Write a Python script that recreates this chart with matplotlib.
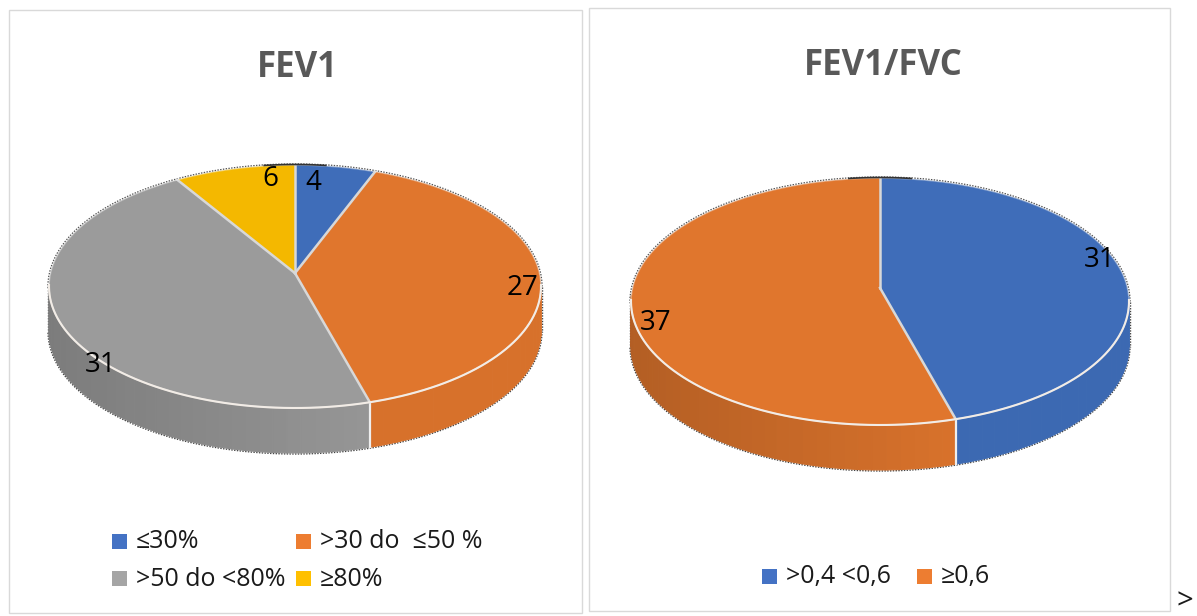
import numpy as np
import matplotlib
matplotlib.use("Agg")
import matplotlib.pyplot as plt
from matplotlib.colors import to_rgb
from matplotlib.patches import Rectangle

plt.rcParams["font.family"] = ["Open Sans", "DejaVu Sans"]

fev1_labels = ["≤30%", ">30 do  ≤50 %", ">50 do <80%", "≥80%"]
fev1_values = [4, 27, 31, 6]
ratio_labels = [">0,4 <0,6", "≥0,6"]
ratio_values = [31, 37]

BLUE, ORANGE, GRAY, YELLOW = "#3f6db9", "#e0762d", "#9b9b9b", "#f4b800"
LEGEND_COLORS = {BLUE: "#4472c4", ORANGE: "#ed7d31", GRAY: "#a5a5a5", YELLOW: "#ffc000"}
EDGE = "#d8d8d8"
TITLE = "#595959"
DEPTH = 45
TILT = 0.11  # how far the apex sits above the middle of the ellipse


def project(theta, cx, cy, rx, ry):
    """angle clockwise from the top -> picture position, with a bit of perspective"""
    x_u = np.sin(theta) * np.sqrt(1 - TILT**2) / (1 + TILT * np.cos(theta))
    y_u = (np.cos(theta) + TILT) / (1 + TILT * np.cos(theta))
    return cx + rx * x_u, cy - ry * y_u, x_u, y_u


def shade(x_u):
    return 0.80 + 0.16 * min((x_u + 1) / 1.3, 1)


def draw_pie(ax, values, colors, cx, cy, rx, ry):
    edges = np.concatenate([[0], np.cumsum(values)]) / sum(values) * 2 * np.pi

    # dotted outline round the whole disc
    t = np.linspace(0, 2 * np.pi, 300)
    dots = dict(color="#444444", lw=1.0, ls=(0, (1, 1)), zorder=1)
    ax.plot(cx + (rx + 1) * np.cos(t[:151]), cy - (ry + 1) * np.sin(t[:151]), **dots)
    ax.plot(cx + (rx + 1) * np.cos(t[150:]), cy + DEPTH - (ry + 1) * np.sin(t[150:]), **dots)
    ax.plot([cx - rx - 1] * 2, [cy, cy + DEPTH], **dots)
    ax.plot([cx + rx + 1] * 2, [cy, cy + DEPTH], **dots)

    # side wall, only the part facing us
    for a, b, color in zip(edges[:-1], edges[1:], colors):
        th = np.linspace(a, b, max(int((b - a) * 20), 2))
        px, py, ux, uy = project(th, cx, cy, rx, ry)
        for i in range(len(th) - 1):
            if uy[i] > 0 and uy[i + 1] > 0:
                continue
            c = np.array(to_rgb(color)) * shade(ux[i])
            ax.fill([px[i], px[i + 1], px[i + 1], px[i]],
                    [py[i], py[i + 1], py[i + 1] + DEPTH, py[i] + DEPTH],
                    color=c, lw=0.8, zorder=2)

    # seams on the wall
    for a in edges[:-1]:
        px, py, ux, uy = project(np.array([a]), cx, cy, rx, ry)
        if uy[0] < 0:
            ax.plot([px[0], px[0]], [py[0], py[0] + DEPTH], color="#eeeeee", lw=1.6, zorder=3)

    # top of the pie
    apex_y = cy - ry * TILT
    for a, b, color in zip(edges[:-1], edges[1:], colors):
        th = np.linspace(a, b, 200)
        px, py, _, _ = project(th, cx, cy, rx, ry)
        ax.fill(np.r_[cx, px], np.r_[apex_y, py], facecolor=color, edgecolor="none", zorder=4)
    for a in edges[:-1]:
        px, py, _, _ = project(np.array([a]), cx, cy, rx, ry)
        ax.plot([cx, px[0]], [apex_y, py[0]], color=EDGE, lw=1.8, zorder=5)

    # light rim along the front
    th = np.linspace(0, 2 * np.pi, 400)
    px, py, ux, uy = project(th, cx, cy, rx, ry)
    ax.plot(px, py, color="#eeeeee", lw=1.2, alpha=0.4, zorder=5)
    px, py = px[uy < 0.02], py[uy < 0.02]
    ax.plot(px, py, color="#f2ece6", lw=1.5, zorder=5)

    # short dark bit at the very top
    th = np.linspace(-0.14, 0.14, 30)
    px, py, _, _ = project(th, cx, cy, rx, ry)
    ax.plot(px, py - 0.5, color="#333333", lw=1.2, zorder=6)


def draw_legend(ax, labels, colors, spots):
    for label, color, (x, y) in zip(labels, colors, spots):
        ax.add_patch(Rectangle((x, y - 7.5), 15, 15, facecolor=LEGEND_COLORS[color], edgecolor="none"))
        ax.text(x + 24, y + 1, label, fontsize=18, color="#1a1a1a", va="center", ha="left")


fig = plt.figure(figsize=(11.97, 6.16), dpi=100)
ax = fig.add_axes([0, 0, 1, 1])
ax.set_xlim(0, 1197)
ax.set_ylim(616, 0)
ax.axis("off")

ax.add_patch(Rectangle((9, 10), 573, 603, facecolor="white", edgecolor="#d9d9d9", lw=1.0))
ax.add_patch(Rectangle((589, 8), 581, 603, facecolor="white", edgecolor="#d9d9d9", lw=1.0))

ax.text(297, 68, "FEV1", fontsize=25, fontweight="bold", color=TITLE, ha="center", va="center")
ax.text(883, 66, "FEV1/FVC", fontsize=25, fontweight="bold", color=TITLE, ha="center", va="center")

draw_pie(ax, fev1_values, [BLUE, ORANGE, GRAY, YELLOW], 295, 286.5, 246, 121.5)
draw_pie(ax, ratio_values, [BLUE, ORANGE], 880, 301.5, 249, 123.5)

for value, spot in zip(fev1_values, [(313, 183), (522, 288), (101, 365), (270, 179)]):
    ax.text(*spot, str(value), fontsize=20, color="black", ha="center", va="center", zorder=8)
for value, spot in zip(ratio_values, [(1100, 260), (656, 323)]):
    ax.text(*spot, str(value), fontsize=20, color="black", ha="center", va="center", zorder=8)

draw_legend(ax, fev1_labels, [BLUE, ORANGE, GRAY, YELLOW], [(112, 541), (296, 541), (112, 578), (296, 578)])
draw_legend(ax, ratio_labels, [BLUE, ORANGE], [(762, 576), (917, 576)])

ax.text(1185, 616, ">", fontsize=21, color="#1a1a1a", ha="center", va="bottom")

fig.savefig("out.png", dpi=100)
